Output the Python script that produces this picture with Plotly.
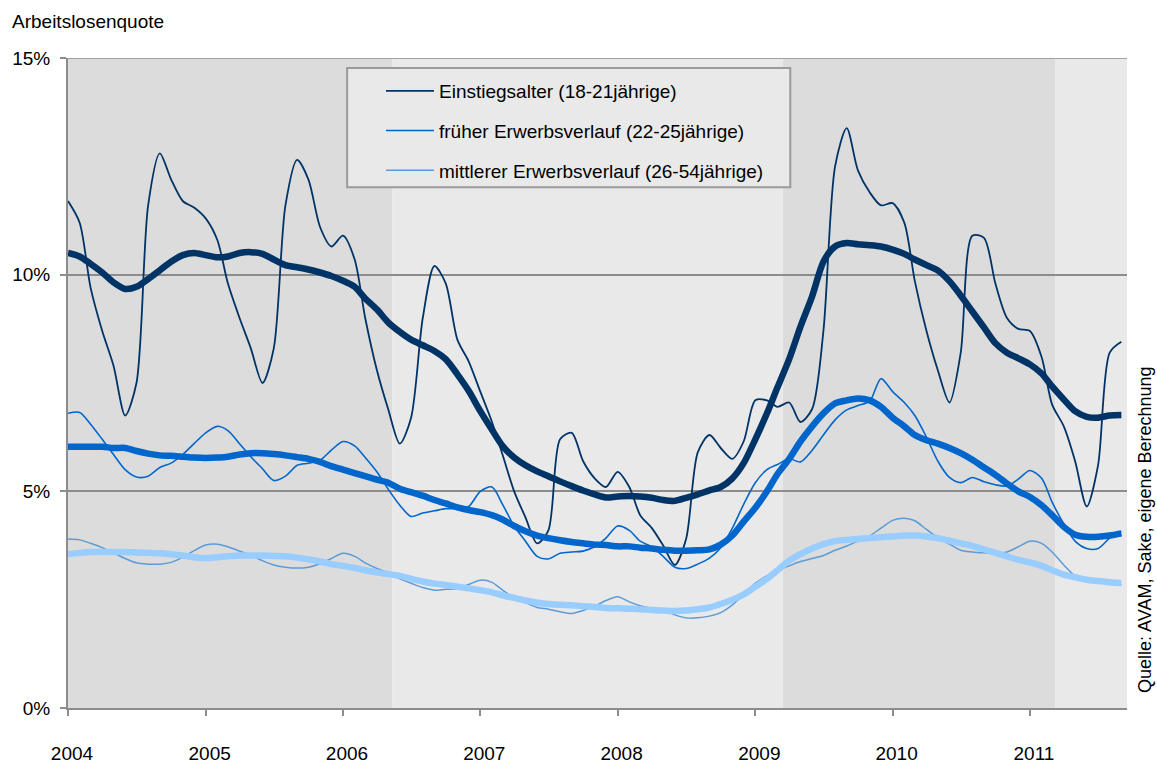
import pandas as pd
import plotly.graph_objects as go

months = pd.date_range("2004-01-01", periods=93, freq="MS")

years = ["2004", "2005", "2006", "2007", "2008", "2009", "2010", "2011"]
year_ticks = [f"{y}-01-01" for y in years]

names = [
    "Einstiegsalter (18-21jährige)",
    "früher Erwerbsverlauf (22-25jährige)",
    "mittlerer Erwerbsverlauf (26-54jährige)",
]

# raw monthly unemployment rate (%), 18-21
einstieg_raw = [
    11.7, 11.2, 9.7, 8.7, 7.9, 6.75, 7.5, 11.6, 12.8, 12.2, 11.7, 11.55,
    11.3, 10.8, 9.8, 9.0, 8.3, 7.5, 8.3, 11.6, 12.65, 12.2, 11.1, 10.65,
    10.9, 10.35, 9.0, 7.8, 6.9, 6.1, 6.7, 9.0, 10.2, 9.8, 8.5, 8.0,
    7.3, 6.6, 5.85, 5.0, 4.4, 3.8, 4.1, 6.2, 6.35, 5.7, 5.3, 5.1,
    5.45, 5.1, 4.45, 4.15, 3.75, 3.3, 3.9, 5.9, 6.3, 6.0, 5.75, 6.15,
    7.1, 7.1, 6.95, 7.05, 6.6, 6.9, 8.7, 12.5, 13.38, 12.4, 11.9, 11.6,
    11.65, 11.2, 9.85, 8.7, 7.8, 7.05, 8.2, 10.9, 10.85, 9.8, 9.0, 8.75,
    8.7, 8.1, 7.0, 6.5, 5.7, 4.65, 5.6, 8.2, 8.45,
]
# smoothed trend, 18-21
einstieg_trend = [
    10.5, 10.42, 10.25, 10.05, 9.82, 9.67, 9.72, 9.9, 10.1, 10.3, 10.45, 10.5,
    10.45, 10.4, 10.42, 10.5, 10.52, 10.48, 10.35, 10.22, 10.17, 10.12, 10.05, 9.97,
    9.86, 9.72, 9.45, 9.2, 8.9, 8.68, 8.5, 8.37, 8.24, 8.05, 7.7, 7.32,
    6.85, 6.42, 6.05, 5.78, 5.6, 5.46, 5.35, 5.23, 5.12, 5.02, 4.93, 4.86,
    4.88, 4.89, 4.88, 4.85, 4.8, 4.78, 4.85, 4.93, 5.02, 5.1, 5.3, 5.65,
    6.2, 6.8, 7.4, 8.05, 8.8, 9.5, 10.3, 10.65, 10.73, 10.7, 10.68, 10.65,
    10.58, 10.48, 10.35, 10.22, 10.1, 9.85, 9.52, 9.15, 8.78, 8.42, 8.2, 8.07,
    7.93, 7.72, 7.42, 7.12, 6.85, 6.72, 6.7, 6.75, 6.76,
]
# raw, 22-25
frueh_raw = [
    6.8, 6.82, 6.55, 6.2, 5.85, 5.5, 5.33, 5.35, 5.55, 5.65, 5.85, 6.1,
    6.35, 6.5, 6.4, 6.1, 5.8, 5.52, 5.25, 5.35, 5.6, 5.65, 5.72, 5.95,
    6.15, 6.05, 5.78, 5.45, 5.05, 4.68, 4.42, 4.5, 4.55, 4.6, 4.6, 4.65,
    5.0, 5.1, 4.7, 4.2, 3.85, 3.5, 3.44, 3.57, 3.6, 3.62, 3.72, 3.92,
    4.2, 4.1, 3.85, 3.72, 3.5, 3.25, 3.22, 3.32, 3.46, 3.7, 4.15, 4.7,
    5.2, 5.5, 5.62, 5.75, 5.68, 5.95, 6.3, 6.65, 6.88, 6.98, 7.08, 7.6,
    7.3, 7.05, 6.75, 6.25, 5.7, 5.32, 5.2, 5.32, 5.22, 5.15, 5.12, 5.28,
    5.48, 5.3, 4.75, 4.25, 3.85, 3.68, 3.68, 3.92, 4.08,
]
# trend, 22-25
frueh_trend = [
    6.03, 6.03, 6.03, 6.03, 6.0, 6.0, 5.93, 5.87, 5.83, 5.82, 5.8, 5.78,
    5.77, 5.78, 5.8, 5.85, 5.88, 5.88, 5.86, 5.83, 5.79, 5.75, 5.68, 5.58,
    5.5, 5.42, 5.35, 5.27, 5.2, 5.06, 4.98, 4.9, 4.8, 4.72, 4.63, 4.57,
    4.52, 4.45, 4.35, 4.2, 4.08, 3.98, 3.92, 3.87, 3.83, 3.8, 3.77, 3.76,
    3.73, 3.73, 3.7, 3.68, 3.65, 3.63, 3.63, 3.64, 3.66, 3.77, 3.98, 4.3,
    4.62, 5.0, 5.4, 5.75, 6.15, 6.5, 6.8, 7.03, 7.1, 7.14, 7.1, 6.95,
    6.7, 6.5, 6.3, 6.18, 6.1, 6.0, 5.88, 5.73, 5.55, 5.38, 5.18, 5.0,
    4.87, 4.68, 4.45, 4.18, 4.0, 3.95, 3.95, 3.98, 4.03,
]
# raw, 26-54
mittel_raw = [
    3.9, 3.88, 3.8, 3.7, 3.58, 3.45, 3.35, 3.32, 3.32, 3.36, 3.48, 3.63,
    3.76, 3.78, 3.72, 3.62, 3.52, 3.4, 3.3, 3.25, 3.23, 3.25, 3.33, 3.45,
    3.57, 3.5, 3.35, 3.22, 3.12, 2.98, 2.88, 2.78, 2.72, 2.74, 2.75, 2.85,
    2.95, 2.9, 2.72, 2.55, 2.43, 2.32, 2.28, 2.22, 2.18, 2.25, 2.35, 2.48,
    2.57, 2.45, 2.36, 2.3, 2.25, 2.15, 2.08, 2.08, 2.12, 2.2, 2.38, 2.62,
    2.88, 3.05, 3.18, 3.28, 3.38, 3.45, 3.52, 3.64, 3.74, 3.85, 3.97, 4.15,
    4.33, 4.38, 4.32, 4.12, 3.93, 3.78, 3.64, 3.6, 3.58, 3.57, 3.6, 3.72,
    3.85, 3.8, 3.6, 3.3, 3.05, 2.97, 2.9, 2.86, 2.84,
]
# trend, 26-54
mittel_trend = [
    3.55, 3.58, 3.6, 3.6, 3.6, 3.6, 3.59, 3.58, 3.57, 3.55, 3.52, 3.48,
    3.46, 3.48, 3.5, 3.52, 3.52, 3.52, 3.51, 3.5, 3.47, 3.43, 3.38, 3.32,
    3.28, 3.23, 3.18, 3.13, 3.09, 3.05, 2.98, 2.92, 2.87, 2.84, 2.8, 2.76,
    2.72, 2.67, 2.6, 2.54, 2.48, 2.43, 2.4, 2.38, 2.37, 2.35, 2.33, 2.31,
    2.3, 2.29, 2.28, 2.26, 2.25, 2.24, 2.25, 2.28, 2.32, 2.4, 2.5, 2.62,
    2.8, 2.98, 3.18, 3.4, 3.55, 3.68, 3.78, 3.85, 3.88, 3.9, 3.92, 3.94,
    3.96, 3.98, 3.98, 3.96, 3.92, 3.86, 3.8, 3.74, 3.66, 3.58, 3.5, 3.42,
    3.36, 3.28, 3.18, 3.08, 3.02, 2.96, 2.93, 2.9, 2.88,
]

# shaded periods (start, end, colour)
bands = [
    ("2004-01-01", "2006-05-12", "#dcdcdc"),
    ("2006-05-12", "2009-03-15", "#e9e9e9"),
    ("2009-03-15", "2011-03-10", "#dcdcdc"),
    ("2011-03-10", "2011-09-16", "#e9e9e9"),
]

FONT = "Liberation Sans, Arial, sans-serif"
c_dark, c_mid, c_light_thin, c_light_thick = "#003366", "#0066cc", "#5b9bd8", "#99ccff"
TXT = "#000000"

fig = go.Figure()
raw_series = [(einstieg_raw, c_dark, 1.8), (frueh_raw, c_mid, 1.6), (mittel_raw, c_light_thin, 1.5)]
for name, (vals, col, w) in zip(names, raw_series):
    fig.add_trace(go.Scatter(
        x=months, y=vals, mode="lines", name=name, legendgroup=name,
        line=dict(color=col, width=w, shape="spline", smoothing=0.8),
    ))
trend_series = [(einstieg_trend, c_dark), (frueh_trend, c_mid), (mittel_trend, c_light_thick)]
for vals, col in trend_series:
    fig.add_trace(go.Scatter(
        x=months, y=vals, mode="lines", showlegend=False, hoverinfo="skip",
        line=dict(color=col, width=6.5, shape="spline", smoothing=0.8),
    ))

shapes = []
for x0, x1, col in bands:
    shapes.append(dict(type="rect", xref="x", yref="y", x0=x0, x1=x1, y0=0, y1=15,
                       fillcolor=col, line_width=0, layer="below"))
# legend box (drawn on the plot layer, below grid and traces)
shapes.append(dict(type="rect", xref="x", yref="y",
                   x0="2006-01-12", x1="2009-04-04", y0=12.02, y1=14.77,
                   fillcolor="#e9e9e9", line=dict(color="#9a9a9a", width=2), layer="below"))
# top border line at 15 %
shapes.append(dict(type="line", xref="paper", yref="y", x0=0, x1=1, y0=15, y1=15,
                   line=dict(color="#8c8c8c", width=1.5), layer="above"))

fig.update_layout(
    width=1157, height=767,
    margin=dict(l=68, r=30, t=58, b=59),
    paper_bgcolor="white", plot_bgcolor="white",
    font=dict(family=FONT, size=19, color=TXT),
    shapes=shapes,
    showlegend=True,
    legend=dict(x=(381 - 68) / 1059, y=(708 - 72) / 650, xanchor="left", yanchor="top",
                bgcolor="rgba(0,0,0,0)", borderwidth=0, tracegroupgap=12, itemwidth=48,
                font=dict(family=FONT, size=19, color=TXT)),
    annotations=[
        dict(text="Arbeitslosenquote", xref="paper", yref="paper",
             x=(10 - 68) / 1059, y=(708 - 21) / 650, xanchor="left", yanchor="middle",
             showarrow=False, font=dict(family=FONT, size=19, color=TXT)),
        dict(text="Quelle: AVAM, Sake, eigene Berechnung", xref="paper", yref="paper",
             x=(1145 - 68) / 1059, y=(708 - 530) / 650, xanchor="center", yanchor="middle",
             textangle=-90, showarrow=False, font=dict(family=FONT, size=18, color=TXT)),
    ],
)
fig.update_xaxes(
    type="date", range=["2004-01-01", "2011-09-16"],
    tickvals=year_ticks, ticktext=years,
    ticks="outside", ticklen=6, tickcolor="#8c8c8c", tickwidth=1.5,
    showline=True, linecolor="#8c8c8c", linewidth=2,
    showgrid=False, zeroline=False, automargin=False,
    ticklabelstandoff=21, ticklabelshift=4,
)
fig.update_yaxes(
    range=[0, 15], tickvals=[0, 5, 10, 15], ticktext=["0%", "5%", "10%", "15%"],
    ticks="outside", ticklen=6, tickcolor="#8c8c8c", tickwidth=1.5,
    showline=True, linecolor="#8c8c8c", linewidth=2,
    showgrid=True, gridcolor="#8c8c8c", gridwidth=1.5, zeroline=False, automargin=False,
    ticklabelstandoff=6,
)

fig.write_html(
    "out.html",
    config={"displayModeBar": False},
    post_script="document.body.style.margin='0';document.documentElement.style.overflow='hidden';",
)
